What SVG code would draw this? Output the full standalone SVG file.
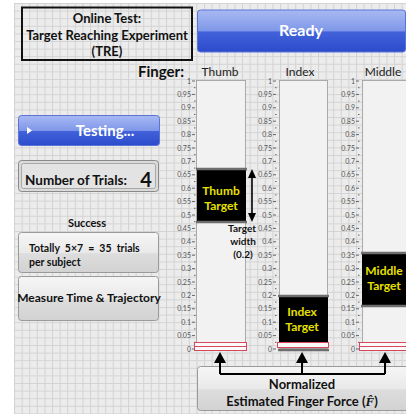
<svg xmlns="http://www.w3.org/2000/svg" width="406" height="418" viewBox="0 0 406 418">
  <defs>
    <pattern id="grid" width="7.6" height="7.6" patternUnits="userSpaceOnUse" x="14" y="3">
      <rect width="7.6" height="7.6" fill="#ececec"/>
      <path d="M0 0.5H7.6M0.5 0V7.6" stroke="#d3d3d3" stroke-width="1"/>
    </pattern>
    <linearGradient id="blue" x1="0" y1="0" x2="0" y2="1">
      <stop offset="0" stop-color="#a8b9f2"/>
      <stop offset="0.5" stop-color="#7f97e8"/>
      <stop offset="0.52" stop-color="#4262da"/>
      <stop offset="1" stop-color="#2c4bcc"/>
    </linearGradient>
    <linearGradient id="gray" x1="0" y1="0" x2="0" y2="1">
      <stop offset="0" stop-color="#f6f6f6"/>
      <stop offset="0.5" stop-color="#e9e9e9"/>
      <stop offset="0.53" stop-color="#dddddd"/>
      <stop offset="1" stop-color="#d2d2d2"/>
    </linearGradient>
  </defs>
  <style>
    text { font-family: Lato, "Liberation Sans", sans-serif; }
    .b { font-weight: bold; fill: #111; }
    .w { font-weight: bold; fill: #fff; }
    .y { font-weight: bold; fill: #e8e000; font-size: 12px; text-anchor: middle; }
    .tl { font-size: 7px; fill: #555; text-anchor: end; }
    .ct { font-size: 12px; fill: #222; text-anchor: middle; }
    .bar { fill: #f2f2f2; stroke: #9a9a9a; stroke-width: 0.8; }
    .btn { fill: url(#gray); stroke: #9a9a9a; stroke-width: 1; }
    .zero { fill: #fafafa; stroke: #d9485a; stroke-width: 1; }
    .tgt { fill: #000; }
    .edge { stroke: #6e6e6e; stroke-width: 2.5; }
    .tick { stroke: #666; stroke-width: 1; }
    .conn { stroke: #000; stroke-width: 2; fill: none; }
  </style>

  <!-- panel background -->
  <rect x="0" y="0" width="406" height="418" fill="#fff"/>
  <rect x="14" y="3" width="392" height="411" fill="url(#grid)"/>

  <!-- title -->
  <g id="title">
    <rect x="22" y="7.5" width="170" height="52.5" fill="none" stroke="#111" stroke-width="2"/>
    <text x="107" y="23" class="b" font-size="13" text-anchor="middle">Online Test:</text>
    <text x="107" y="39.5" class="b" font-size="13" text-anchor="middle">Target Reaching Experiment</text>
    <text x="107" y="56" class="b" font-size="13" text-anchor="middle">(TRE)</text>
  </g>

  <!-- Ready indicator -->
  <g id="ready">
    <rect x="197.5" y="10" width="208" height="42" rx="3" fill="url(#blue)" stroke="#5a74d6"/>
    <text x="301" y="36" class="w" font-size="16" text-anchor="middle">Ready</text>
  </g>

  <text x="184" y="77" class="b" font-size="15" text-anchor="end">Finger:</text>

  <!-- left controls -->
  <g id="testing">
    <rect x="18.5" y="115.5" width="141" height="30" rx="3" fill="url(#blue)" stroke="#5a74d6"/>
    <path d="M27 127L27 134L32 130.5Z" fill="#fff"/>
    <text x="105" y="136" class="w" font-size="15" text-anchor="middle">Testing...</text>
  </g>

  <g id="trials">
    <rect x="18.5" y="160.5" width="140" height="31" rx="3" fill="#dadada" stroke="#8a8a8a"/>
    <rect x="21.5" y="163.5" width="134" height="25" rx="2" fill="#e3e3e3" stroke="#a8a8a8"/>
    <text x="25" y="185" class="b" font-size="13.5">Number of Trials:</text>
    <text x="146" y="187" class="b" font-size="20" text-anchor="middle">4</text>
  </g>

  <text x="87" y="227" class="b" font-size="11" text-anchor="middle">Success</text>

  <g id="totally">
    <rect x="18.5" y="232.5" width="140" height="40" rx="3" class="btn"/>
    <text x="29" y="252" class="b" font-size="10.5" xml:space="preserve">Totally  5×7  =  35  trials</text>
    <text x="29" y="266" class="b" font-size="10.5">per subject</text>
  </g>

  <g id="measure">
    <rect x="18.5" y="276.5" width="140" height="44" rx="3" class="btn"/>
    <text x="89" y="302" class="b" font-size="12" text-anchor="middle">Measure Time &amp; Trajectory</text>
  </g>

  <!-- Thumb column -->
  <g id="thumb">
    <text x="220" y="76" class="ct">Thumb</text>
    <rect x="196.5" y="80.5" width="49" height="268" class="bar"/>
    <g class="tl">
      <text x="191" y="83.5">1</text><text x="191" y="96.9">0.95</text><text x="191" y="110.3">0.9</text><text x="191" y="123.7">0.85</text><text x="191" y="137.1">0.8</text><text x="191" y="150.5">0.75</text><text x="191" y="163.9">0.7</text><text x="191" y="177.3">0.65</text><text x="191" y="190.7">0.6</text><text x="191" y="204.1">0.55</text><text x="191" y="217.5">0.5</text><text x="191" y="230.9">0.45</text><text x="191" y="244.3">0.4</text><text x="191" y="257.7">0.35</text><text x="191" y="271.1">0.3</text><text x="191" y="284.5">0.25</text><text x="191" y="297.9">0.2</text><text x="191" y="311.3">0.15</text><text x="191" y="324.7">0.1</text><text x="191" y="338.1">0.05</text><text x="191" y="351.5">0</text>
    </g>
    <path class="tick" d="M192 81h3M192 94.4h3M192 107.8h3M192 121.2h3M192 134.6h3M192 148h3M192 161.4h3M192 174.8h3M192 188.2h3M192 201.6h3M192 215h3M192 228.4h3M192 241.8h3M192 255.2h3M192 268.6h3M192 282h3M192 295.4h3M192 308.8h3M192 322.2h3M192 335.6h3M192 349h3"/>
    <path class="tick" stroke-width="0.8" d="M194 87.7h1.5M194 101.1h1.5M194 114.5h1.5M194 127.9h1.5M194 141.3h1.5M194 154.7h1.5M194 168.1h1.5M194 181.5h1.5M194 194.9h1.5M194 208.3h1.5M194 221.7h1.5M194 235.1h1.5M194 248.5h1.5M194 261.9h1.5M194 275.3h1.5M194 288.7h1.5M194 302.1h1.5M194 315.5h1.5M194 328.9h1.5M194 342.3h1.5"/>
    <rect x="197" y="169" width="49" height="53" class="tgt"/>
    <path class="edge" d="M196 169h51M196 222h51"/>
    <text x="221" y="195" class="y">Thumb</text>
    <text x="221" y="210" class="y">Target</text>
    <rect x="194.5" y="342.5" width="52" height="4" class="zero"/>
    <rect x="194.5" y="346.5" width="52" height="4" class="zero"/>
  </g>

  <!-- target width annotation -->
  <g id="target-width">
    <line x1="252" y1="176" x2="252" y2="215" stroke="#000" stroke-width="1.6"/>
    <path d="M248 178L252 169L256 178Z" fill="#000"/>
    <path d="M248 213L252 222L256 213Z" fill="#000"/>
    <text x="242" y="232" class="b" font-size="10" text-anchor="middle">Target</text>
    <text x="243" y="245" class="b" font-size="10" text-anchor="middle">width</text>
    <text x="243" y="258" class="b" font-size="10" text-anchor="middle">(0.2)</text>
  </g>

  <!-- Index column -->
  <g id="index">
    <text x="300" y="76" class="ct">Index</text>
    <rect x="279.5" y="80.5" width="48" height="268" class="bar"/>
    <g class="tl">
      <text x="272" y="83.5">1</text><text x="272" y="96.9">0.95</text><text x="272" y="110.3">0.9</text><text x="272" y="123.7">0.85</text><text x="272" y="137.1">0.8</text><text x="272" y="150.5">0.75</text><text x="272" y="163.9">0.7</text><text x="272" y="177.3">0.65</text><text x="272" y="190.7">0.6</text><text x="272" y="204.1">0.55</text><text x="272" y="217.5">0.5</text><text x="272" y="230.9">0.45</text><text x="272" y="244.3">0.4</text><text x="272" y="257.7">0.35</text><text x="272" y="271.1">0.3</text><text x="272" y="284.5">0.25</text><text x="272" y="297.9">0.2</text><text x="272" y="311.3">0.15</text><text x="272" y="324.7">0.1</text><text x="272" y="338.1">0.05</text><text x="272" y="351.5">0</text>
    </g>
    <path class="tick" d="M273 81h3M273 94.4h3M273 107.8h3M273 121.2h3M273 134.6h3M273 148h3M273 161.4h3M273 174.8h3M273 188.2h3M273 201.6h3M273 215h3M273 228.4h3M273 241.8h3M273 255.2h3M273 268.6h3M273 282h3M273 295.4h3M273 308.8h3M273 322.2h3M273 335.6h3M273 349h3"/>
    <path class="tick" stroke-width="0.8" d="M275 87.7h1.5M275 101.1h1.5M275 114.5h1.5M275 127.9h1.5M275 141.3h1.5M275 154.7h1.5M275 168.1h1.5M275 181.5h1.5M275 194.9h1.5M275 208.3h1.5M275 221.7h1.5M275 235.1h1.5M275 248.5h1.5M275 261.9h1.5M275 275.3h1.5M275 288.7h1.5M275 302.1h1.5M275 315.5h1.5M275 328.9h1.5M275 342.3h1.5"/>
    <rect x="279" y="296" width="49" height="47" class="tgt"/>
    <path class="edge" d="M278 296h51M278 350h51"/>
    <text x="302" y="316" class="y">Index</text>
    <text x="302" y="331" class="y">Target</text>
    <rect x="277.5" y="342.5" width="51" height="5" class="zero"/>
  </g>

  <!-- Middle column -->
  <g id="middle">
    <text x="383" y="76" class="ct">Middle</text>
    <rect x="362.5" y="80.5" width="48" height="268" class="bar"/>
    <g class="tl">
      <text x="355" y="83.5">1</text><text x="355" y="96.9">0.95</text><text x="355" y="110.3">0.9</text><text x="355" y="123.7">0.85</text><text x="355" y="137.1">0.8</text><text x="355" y="150.5">0.75</text><text x="355" y="163.9">0.7</text><text x="355" y="177.3">0.65</text><text x="355" y="190.7">0.6</text><text x="355" y="204.1">0.55</text><text x="355" y="217.5">0.5</text><text x="355" y="230.9">0.45</text><text x="355" y="244.3">0.4</text><text x="355" y="257.7">0.35</text><text x="355" y="271.1">0.3</text><text x="355" y="284.5">0.25</text><text x="355" y="297.9">0.2</text><text x="355" y="311.3">0.15</text><text x="355" y="324.7">0.1</text><text x="355" y="338.1">0.05</text><text x="355" y="351.5">0</text>
    </g>
    <path class="tick" d="M356 81h3M356 94.4h3M356 107.8h3M356 121.2h3M356 134.6h3M356 148h3M356 161.4h3M356 174.8h3M356 188.2h3M356 201.6h3M356 215h3M356 228.4h3M356 241.8h3M356 255.2h3M356 268.6h3M356 282h3M356 295.4h3M356 308.8h3M356 322.2h3M356 335.6h3M356 349h3"/>
    <path class="tick" stroke-width="0.8" d="M358 87.7h1.5M358 101.1h1.5M358 114.5h1.5M358 127.9h1.5M358 141.3h1.5M358 154.7h1.5M358 168.1h1.5M358 181.5h1.5M358 194.9h1.5M358 208.3h1.5M358 221.7h1.5M358 235.1h1.5M358 248.5h1.5M358 261.9h1.5M358 275.3h1.5M358 288.7h1.5M358 302.1h1.5M358 315.5h1.5M358 328.9h1.5M358 342.3h1.5"/>
    <rect x="362" y="253" width="46" height="53" class="tgt"/>
    <path class="edge" d="M361 253h47M361 306h47"/>
    <text x="384" y="275" class="y">Middle</text>
    <text x="384" y="290" class="y">Target</text>
    <rect x="359.5" y="342.5" width="50" height="4" class="zero"/>
    <rect x="359.5" y="346.5" width="50" height="4" class="zero"/>
  </g>

  <!-- force input box -->
  <g id="force">
    <rect x="197.5" y="366.5" width="212" height="44" rx="3" class="btn"/>
    <text x="302" y="389" class="b" font-size="13" text-anchor="middle">Normalized</text>
    <text x="302" y="406" class="b" font-size="13" text-anchor="middle">Estimated Finger Force (<tspan font-family="Liberation Serif, serif" font-style="italic">F̂</tspan>)</text>
  </g>

  <!-- connectors -->
  <g id="connectors">
    <path class="conn" d="M220 374H385"/>
    <path class="conn" d="M220 374V362"/>
    <path class="conn" d="M302 374V362"/>
    <path class="conn" d="M385 374V362"/>
    <path d="M214 363L220 352L226 363Z" fill="#000"/>
    <path d="M296 363L302 352L308 363Z" fill="#000"/>
    <path d="M379 363L385 352L391 363Z" fill="#000"/>
  </g>
</svg>
